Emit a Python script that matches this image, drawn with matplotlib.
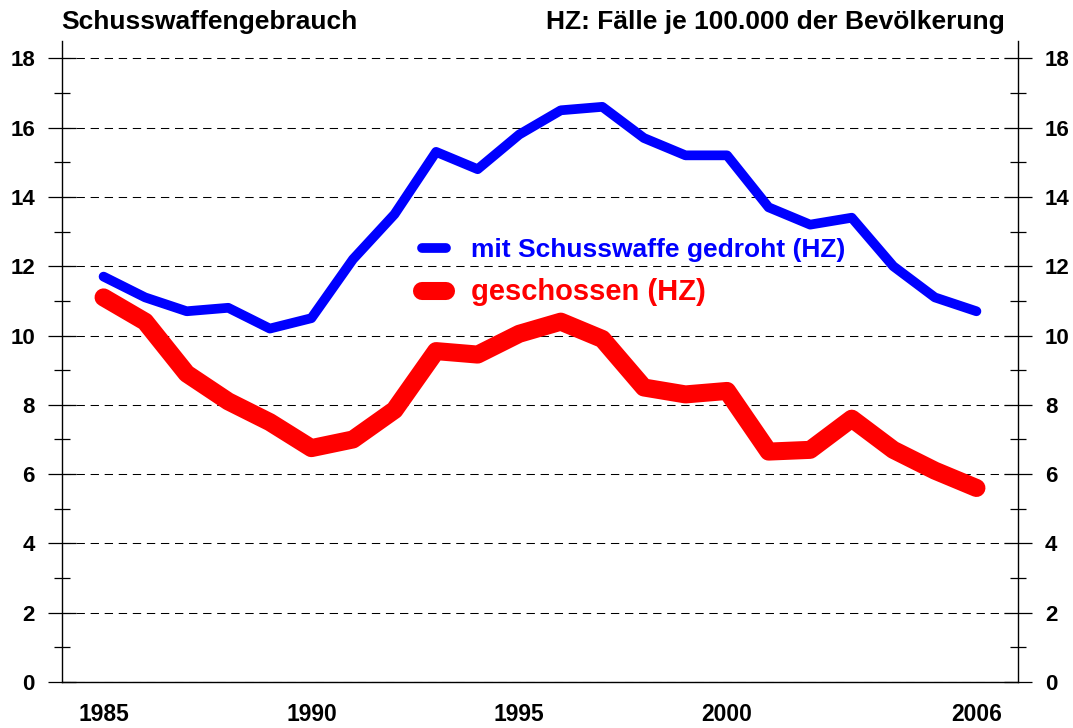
import matplotlib
matplotlib.use("Agg")
import matplotlib.pyplot as plt
from matplotlib.ticker import MultipleLocator

plt.rcParams["font.family"] = ["Liberation Sans", "DejaVu Sans"]
plt.rcParams["font.weight"] = "bold"

years = list(range(1985, 2007))
gedroht = [11.7, 11.1, 10.7, 10.8, 10.2, 10.5, 12.2, 13.5, 15.3, 14.8, 15.8,
           16.5, 16.6, 15.7, 15.2, 15.2, 13.7, 13.2, 13.4, 12.0, 11.1, 10.7]
geschossen = [11.1, 10.4, 8.9, 8.1, 7.5, 6.75, 7.0, 7.85, 9.55, 9.45, 10.05,
              10.4, 9.9, 8.5, 8.3, 8.4, 6.65, 6.7, 7.6, 6.7, 6.1, 5.6]
xticks = [1985, 1990, 1995, 2000, 2006]

fig = plt.figure(figsize=(10.73, 7.28), dpi=100)
ax = fig.add_axes([62 / 1073, 1 - 682 / 728, (1018 - 62) / 1073, (682 - 41) / 728])

ax.plot(years, gedroht, color="#0000ff", lw=7, solid_capstyle="round",
        solid_joinstyle="round", label="mit Schusswaffe gedroht (HZ)", zorder=3)
ax.plot(years, geschossen, color="#ff0000", lw=13, solid_capstyle="round",
        solid_joinstyle="round", label="geschossen (HZ)", zorder=3)

ax.set_xlim(1984, 2007)
ax.set_ylim(0, 18.5)
ax.set_xticks(xticks)
ax.yaxis.set_major_locator(MultipleLocator(2))
ax.yaxis.set_minor_locator(MultipleLocator(1))
ax.set_yticks([0, 2, 4, 6, 8, 10, 12, 14, 16, 18])

ax.grid(axis="y", which="major", color="black", lw=0.75, linestyle=(0, (8, 5.5)))
ax.tick_params(axis="x", length=0, pad=15, labelsize=16.5)
ax.tick_params(axis="y", which="major", direction="inout", length=20, width=0.9,
               left=True, right=True, labelleft=True, labelright=True, pad=9.5,
               labelsize=16)
ax.tick_params(axis="y", which="minor", direction="inout", length=11, width=0.9,
               left=True, right=True)
for lab in ax.get_xticklabels() + ax.get_yticklabels():
    lab.set_fontweight("bold")

ax.spines["top"].set_visible(False)
for s in ("left", "right", "bottom"):
    ax.spines[s].set_linewidth(1.0)

leg = ax.legend(loc="upper left", bbox_to_anchor=(0.377, 0.692), frameon=False,
                borderpad=0, borderaxespad=0, handlelength=0.9, handletextpad=0.95,
                labelspacing=0.6, prop={"size": 19, "weight": "bold"})
texts = leg.get_texts()
texts[0].set_color("#0000ff")
texts[1].set_color("#ff0000")
texts[1].set_fontsize(21)

fig.text(61 / 1073, 1 - 29 / 728, "Schusswaffengebrauch", fontsize=19,
         fontweight="bold", ha="left", va="baseline")
fig.text(1005 / 1073, 1 - 29 / 728, "HZ: Fälle je 100.000 der Bevölkerung",
         fontsize=19, fontweight="bold", ha="right", va="baseline")

fig.savefig("out.png", dpi=100)
